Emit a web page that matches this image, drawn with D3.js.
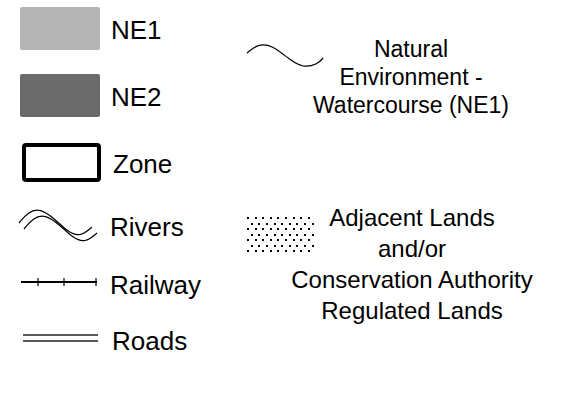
<!DOCTYPE html>
<meta charset="utf-8">
<style>
body { margin: 0; background: #fff; }
text { font-family: "Liberation Sans", Arial, sans-serif; fill: #000; }
</style>
<svg id="legend" width="582" height="419"></svg>
<script src="https://cdn.jsdelivr.net/npm/d3@7/dist/d3.min.js"></script>
<script>
// legend entries
var leftLabels = ["NE1", "NE2", "Zone", "Rivers", "Railway", "Roads"];
var swatchFill = ["#b4b4b4", "#6b6b6b"];
var watercourseLines = ["Natural", "Environment -", "Watercourse (NE1)"];
var adjacentLines = ["Adjacent Lands", "and/or", "Conservation Authority", "Regulated Lands"];

var svg = d3.select("#legend");

// row centres for left column
var rowY = d3.scaleOrdinal()
    .domain(leftLabels)
    .range([29, 96, 163, 226, 284, 340]);

var left = svg.append("g");

// filled swatches
left.selectAll("rect.swatch")
    .data(swatchFill)
  .enter().append("rect")
    .attr("class", "swatch")
    .attr("x", 20)
    .attr("y", function(d, i) { return rowY(leftLabels[i]) - 22; })
    .attr("width", 80)
    .attr("height", 43)
    .attr("rx", 2)
    .attr("fill", function(d) { return d; });

// zone outline
left.append("rect")
    .attr("x", 24)
    .attr("y", rowY("Zone") - 18)
    .attr("width", 75)
    .attr("height", 35)
    .attr("rx", 2)
    .attr("fill", "none")
    .attr("stroke", "#000")
    .attr("stroke-width", 4);

// rivers - double wave
var wave = d3.line().curve(d3.curveBasis);
var ry = rowY("Rivers");
var riverPts = [[19, -3], [28, -14], [40, -18], [56, -6], [68, 6], [80, 11], [92, 1]];
[[0, 0], [5, 6]].forEach(function(off) {
  left.append("path")
      .attr("d", wave(riverPts.map(function(p) { return [p[0] + off[0], ry + p[1] + off[1]]; })))
      .attr("fill", "none")
      .attr("stroke", "#000")
      .attr("stroke-width", 1.2);
});

// railway
var yy = rowY("Railway");
left.append("line")
    .attr("x1", 21).attr("x2", 97)
    .attr("y1", yy - 2).attr("y2", yy - 2)
    .attr("stroke", "#000").attr("stroke-width", 2);
left.selectAll("line.tick")
    .data([38, 64, 96])
  .enter().append("line")
    .attr("class", "tick")
    .attr("x1", function(d) { return d; })
    .attr("x2", function(d) { return d; })
    .attr("y1", yy - 6).attr("y2", yy + 2)
    .attr("stroke", "#000").attr("stroke-width", 1.2);

// roads
var rdy = rowY("Roads");
[-5, 1].forEach(function(dy) {
  left.append("line")
      .attr("x1", 23).attr("x2", 98)
      .attr("y1", rdy + dy).attr("y2", rdy + dy)
      .attr("stroke", "#222").attr("stroke-width", 1.3);
});

// left labels
left.selectAll("text")
    .data(leftLabels)
  .enter().append("text")
    .attr("x", function(d, i) { return i < 2 ? 111 : (i == 2 ? 113 : (i == 5 ? 112 : 110)); })
    .attr("y", function(d) { return rowY(d) + 9.5; })
    .style("font-size", "26px")
    .text(function(d) { return d; });

// watercourse
svg.append("path")
    .attr("d", wave([[247, 53], [258, 44], [272, 45], [290, 60], [303, 68], [318, 64], [323, 58]]))
    .attr("fill", "none")
    .attr("stroke", "#000")
    .attr("stroke-width", 1.2);

svg.append("g").selectAll("text")
    .data(watercourseLines)
  .enter().append("text")
    .attr("x", 411)
    .attr("y", function(d, i) { return 57 + i * 28; })
    .attr("text-anchor", "middle")
    .style("font-size", "23px")
    .text(function(d) { return d; });

// stipple swatch
var dots = [];
d3.range(7).forEach(function(r) {
  d3.range(10).forEach(function(c) {
    dots.push([247 + c * 7.6 + (r % 2) * 3.8, 217 + r * 5.5]);
  });
});
svg.append("g").selectAll("rect")
    .data(dots.filter(function(d) { return d[0] < 313; }))
  .enter().append("rect")
    .attr("x", function(d) { return Math.round(d[0]); })
    .attr("y", function(d) { return Math.round(d[1]); })
    .attr("width", 2)
    .attr("height", 2)
    .attr("fill", "#000");

svg.append("g").selectAll("text")
    .data(adjacentLines)
  .enter().append("text")
    .attr("x", 412)
    .attr("y", function(d, i) { return 226 + i * 31; })
    .attr("text-anchor", "middle")
    .style("font-size", "24px")
    .text(function(d) { return d; });
</script>
